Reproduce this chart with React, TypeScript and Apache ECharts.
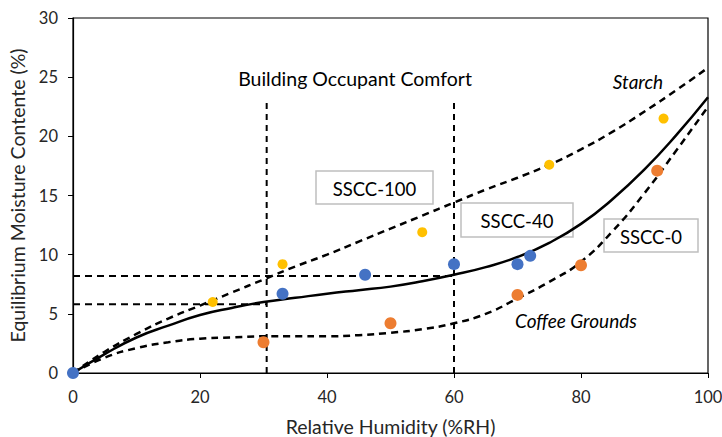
import React, { useEffect, useRef } from "react";
import * as echarts from "echarts";

const rh = [0, 5, 10, 15, 20, 25, 30, 35, 40, 45, 50, 55, 60, 65, 70, 75, 80, 85, 90, 95, 100];
const starchCurve = [0, 1.8, 3.3, 4.6, 5.7, 6.8, 7.9, 9.0, 10.0, 11.1, 12.2, 13.3, 14.4, 15.5, 16.5, 17.6, 18.9, 20.4, 22.1, 23.9, 25.8];
const sscc40Curve = [0, 1.6, 3.0, 4.0, 4.9, 5.5, 6.0, 6.35, 6.7, 7.0, 7.3, 7.75, 8.3, 8.95, 9.8, 11.0, 12.6, 14.7, 17.2, 20.1, 23.3];
const coffeeCurve = [0, 1.3, 2.1, 2.6, 2.9, 3.0, 3.1, 3.1, 3.1, 3.2, 3.4, 3.7, 4.2, 5.0, 6.3, 7.7, 9.4, 12.0, 15.2, 18.8, 22.5];

const sscc40X = [0, 33, 46, 60, 70, 72];
const sscc40Y = [0, 6.7, 8.3, 9.2, 9.2, 9.9];
const sscc0X = [30, 50, 70, 80, 92];
const sscc0Y = [2.6, 4.2, 6.6, 9.1, 17.1];
const sscc100X = [22, 33, 55, 75, 93];
const sscc100Y = [6.0, 9.2, 11.9, 17.6, 21.5];

const comfortBounds = [30.5, 60];
const comfortTop = 23.1;
const hLines = [
  { y: 8.2, x0: 0, x1: 60 },
  { y: 5.8, x0: 0, x1: 30.5 },
];

const FONT = "Lato";

export default function App() {
  const ref = useRef<HTMLDivElement>(null);
  useEffect(() => {
    if (!ref.current) return;
    const chart = echarts.init(ref.current, null, { renderer: "svg" });
    const zip = (xs: number[], ys: number[]) => xs.map((x, i) => [x, ys[i]]);
    const dashed = { type: [7, 5] as any, width: 2.5, color: "#000" };
    const curve = (data: number[], lineStyle: any) => ({
      type: "line", data: zip(rh, data), smooth: 0.5,
      symbol: "none", lineStyle, z: 3,
    });
    const series: any[] = [
      curve(starchCurve, dashed),
      curve(sscc40Curve, { width: 2.5, color: "#000" }),
      curve(coffeeCurve, dashed),
      ...comfortBounds.map((x) => ({
        type: "line", data: [[x, 0], [x, comfortTop]], symbol: "none",
        lineStyle: { type: [6, 5], width: 2, color: "#000" }, z: 3,
      })),
      ...hLines.map((h) => ({
        type: "line", data: [[h.x0, h.y], [h.x1, h.y]], symbol: "none",
        lineStyle: { type: [7, 5], width: 2, color: "#000" }, z: 3,
      })),
      {
        type: "scatter", data: zip(sscc100X, sscc100Y), symbolSize: 10,
        itemStyle: { color: "#FFC000", opacity: 1 }, z: 4,
      },
      {
        type: "scatter", data: zip(sscc0X, sscc0Y), symbolSize: 12,
        itemStyle: { color: "#ED7D31", opacity: 1 }, z: 4,
      },
      {
        type: "scatter", data: zip(sscc40X, sscc40Y), symbolSize: 12,
        itemStyle: { color: "#4472C4", opacity: 1 }, z: 4,
      },
    ];
    const box = (x: number, y: number, w: number, h: number, text: string) => ({
      type: "group",
      z: 10,
      children: [
        {
          type: "rect", shape: { x, y, width: w, height: h },
          style: { fill: "#fff", stroke: "#BFBFBF", lineWidth: 1.5 },
        },
        {
          type: "text", x: x + w / 2, y: y + h / 2 + 1,
          style: {
            text, fill: "#000", font: `18.5px ${FONT}`,
            align: "center", verticalAlign: "middle",
          },
        },
      ],
    });
    chart.setOption({
      animation: false,
      backgroundColor: "#fff",
      grid: {
        left: 73, right: 14, top: 18, bottom: 64,
        outerBoundsMode: "none",
        containLabel: false,
        show: true, borderColor: "#000", borderWidth: 1.2,
      },
      xAxis: {
        type: "value", min: 0, max: 100, interval: 20,
        name: "Relative Humidity (%RH)", nameLocation: "middle", nameGap: 44,
        nameTextStyle: { fontFamily: FONT, fontSize: 19.5, lineHeight: 19, color: "#262626" },
        axisLine: { show: true, lineStyle: { color: "#000", width: 1.2 } },
        axisTick: { show: true, length: 5, lineStyle: { color: "#000" } },
        axisLabel: { fontFamily: FONT, fontSize: 16.5, color: "#262626", margin: 15 },
        splitLine: { show: false },
      },
      yAxis: {
        type: "value", min: 0, max: 30, interval: 5,
        name: "Equilibrium Moisture Contente (%)", nameLocation: "middle", nameGap: 41,
        nameTextStyle: { fontFamily: FONT, fontSize: 19.5, color: "#262626" },
        axisLine: { show: true, lineStyle: { color: "#000", width: 1.2 } },
        axisTick: { show: true, length: 5, lineStyle: { color: "#000" } },
        axisLabel: { fontFamily: FONT, fontSize: 16.5, color: "#262626", margin: 15 },
        splitLine: { show: false },
      },
      series,
      graphic: [
        {
          type: "text", x: 355, y: 78, z: 10,
          style: {
            text: "Building Occupant Comfort", fill: "#000", font: `19.5px ${FONT}`,
            align: "center", verticalAlign: "middle",
          },
        },
        {
          type: "text", x: 638, y: 81, z: 10,
          style: {
            text: "Starch", fill: "#000", font: `italic 19px ${FONT}`,
            align: "center", verticalAlign: "middle",
          },
        },
        {
          type: "text", x: 576, y: 320, z: 10,
          style: {
            text: "Coffee Grounds", fill: "#000", font: `italic 19px ${FONT}`,
            align: "center", verticalAlign: "middle",
          },
        },
        box(316, 171, 117, 33, "SSCC-100"),
        box(461, 203, 112, 34, "SSCC-40"),
        box(604, 219, 94, 33, "SSCC-0"),
      ],
    });
    return () => chart.dispose();
  }, []);
  return (
    <div
      ref={ref}
      style={{ position: "fixed", left: 0, top: 0, width: 722, height: 437, background: "#fff" }}
    />
  );
}
